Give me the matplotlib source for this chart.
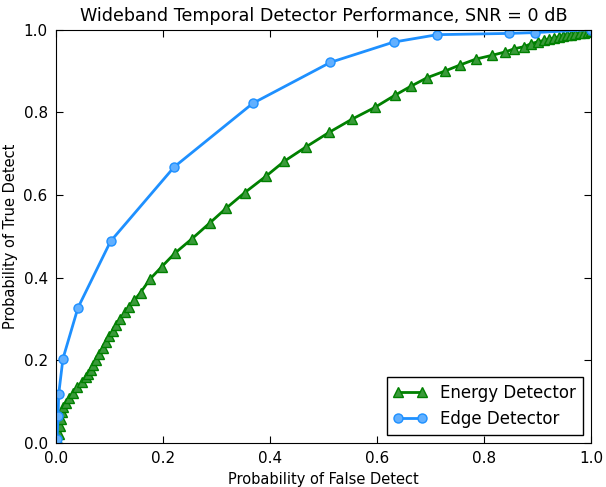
import numpy as np
import matplotlib
matplotlib.use("Agg")
import matplotlib.pyplot as plt

# curvas ROC
pfa_energia = [0.0, 0.004, 0.006, 0.007, 0.009, 0.011, 0.014, 0.019, 0.025, 0.032, 0.040,
               0.048, 0.056, 0.060, 0.065, 0.070, 0.075, 0.081, 0.087, 0.093, 0.100,
               0.106, 0.113, 0.120, 0.129, 0.137, 0.146, 0.158, 0.176, 0.198, 0.222,
               0.254, 0.288, 0.318, 0.353, 0.392, 0.427, 0.468, 0.511, 0.554, 0.596,
               0.633, 0.663, 0.694, 0.727, 0.756, 0.785, 0.815, 0.839, 0.857, 0.875,
               0.888, 0.901, 0.912, 0.922, 0.931, 0.940, 0.948, 0.956, 0.963, 0.970,
               0.979, 0.987, 0.994, 1.0]
pd_energia = [0.0, 0.006, 0.022, 0.042, 0.058, 0.074, 0.086, 0.098, 0.110, 0.122, 0.135,
              0.147, 0.159, 0.167, 0.177, 0.189, 0.202, 0.216, 0.231, 0.245, 0.259,
              0.271, 0.285, 0.299, 0.316, 0.330, 0.345, 0.364, 0.397, 0.427, 0.459,
              0.494, 0.533, 0.568, 0.606, 0.645, 0.682, 0.717, 0.752, 0.784, 0.812,
              0.841, 0.863, 0.884, 0.900, 0.915, 0.929, 0.938, 0.946, 0.954, 0.959,
              0.966, 0.971, 0.974, 0.977, 0.980, 0.983, 0.985, 0.987, 0.988, 0.989,
              0.991, 0.993, 0.995, 0.996]

pfa_borde = [0.0, 0.002, 0.004, 0.005, 0.013, 0.041, 0.102, 0.221, 0.368, 0.513,
             0.631, 0.713, 0.846, 0.895, 1.0]
pd_borde = [0.0, 0.010, 0.065, 0.118, 0.204, 0.327, 0.488, 0.668, 0.822, 0.921,
            0.970, 0.988, 0.991, 0.993, 1.0]

fig = plt.figure(figsize=(6.06, 4.87), dpi=100)
ax = fig.add_axes([0.0924, 0.0903, 0.8828, 0.8487])

ax.plot(pfa_energia, pd_energia, '-^', color='green', lw=2, ms=6.5,
        mfc='#3a9a3a', mec='green', mew=1, label='Energy Detector')
ax.plot(pfa_borde, pd_borde, '-o', color='#1e90ff', lw=2, ms=6.5,
        mfc='#62b0ff', mec='#1e90ff', mew=1, label='Edge Detector')

ax.set_xlim(0, 1)
ax.set_ylim(0, 1)
ax.set_xticks(np.arange(0, 1.01, 0.2))
ax.set_yticks(np.arange(0, 1.01, 0.2))
ax.tick_params(direction='in', top=True, right=True, length=5, labelsize=11, pad=6)
ax.set_title("Wideband Temporal Detector Performance, SNR = 0 dB", fontsize=12.6)
ax.set_xlabel("Probability of False Detect", fontsize=10.5)
ax.set_ylabel("Probability of True Detect", fontsize=10.5)
leg = ax.legend(loc='lower right', numpoints=2, fontsize=12, fancybox=False,
                framealpha=1, borderaxespad=0.5)
leg.get_frame().set_edgecolor('black')

fig.savefig("out.png", dpi=100)
